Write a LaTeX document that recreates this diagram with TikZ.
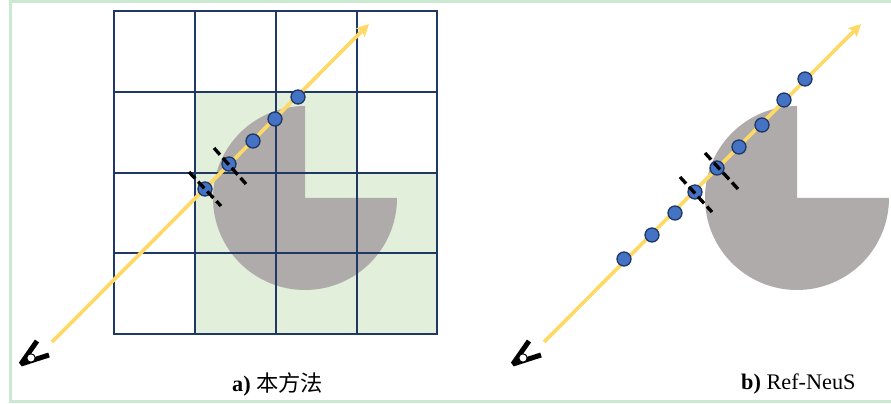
\documentclass[tikz,border=0pt]{standalone}
\usepackage{fontspec}
\usepackage{xcolor}
\usepackage{tikz}
\usetikzlibrary{arrows.meta}
\setmainfont{Liberation Serif}
\newfontfamily\cjkfont{Noto Sans CJK SC}
\definecolor{framegreen}{HTML}{CBE8D0}
\definecolor{cellgreen}{HTML}{E2EFDA}
\definecolor{gridblue}{HTML}{1F3864}
\definecolor{solidgray}{HTML}{AFABAB}
\definecolor{raygold}{HTML}{FFD966}
\definecolor{pointblue}{HTML}{4472C4}

\begin{document}
\begin{tikzpicture}[
    x=0.03cm, y=-0.03cm,
    frameline/.style={draw=framegreen, line width=0.09cm},
    gridline/.style={draw=gridblue, line width=0.075cm},
    ray/.style={draw=raygold, line width=0.11cm, -{Stealth[length=0.36cm,width=0.36cm,inset=0.06cm]}},
    sample/.style={circle, draw=gridblue, line width=0.04cm, fill=pointblue, minimum size=0.42cm, inner sep=0pt},
    bound/.style={draw=black, line width=0.1cm, dash pattern=on 0.27cm off 0.13cm},
    eyearm/.style={draw=black, line width=0.15cm, line join=bevel},
    eyeball/.style={circle, draw=black, line width=0.03cm, fill=white, minimum size=0.25cm, inner sep=0pt},
    caption/.style={font=\fontsize{19pt}{21pt}\selectfont, anchor=base west, inner sep=0pt}
]
\useasboundingbox (0,0) rectangle (891,404);
\draw[frameline] (10,2) rectangle (900,402);

% green cells
\fill[cellgreen] (195,92) -- (357,92) -- (357,173) -- (437,173) -- (437,334) -- (195,334) -- cycle;

% solids
\fill[solidgray] (305,198) -- (305,106) arc[start angle=270, end angle=0, radius=92] -- cycle;
\fill[solidgray] (797,198) -- (797,106) arc[start angle=270, end angle=0, radius=92] -- cycle;

% grid
\draw[gridline] (114,11) rectangle (437,334);
\draw[gridline] (195,11) -- (195,334);
\draw[gridline] (276,11) -- (276,334);
\draw[gridline] (357,11) -- (357,334);
\draw[gridline] (114,92) -- (437,92);
\draw[gridline] (114,173) -- (437,173);
\draw[gridline] (114,253) -- (437,253);

% rays
\coordinate (rayAstart) at (52,342);
\coordinate (rayAend) at (369,24);
\coordinate (rayBstart) at (544,342);
\coordinate (rayBend) at (861,24);
\draw[ray] (rayAstart) -- (rayAend);
\draw[ray] (rayBstart) -- (rayBend);

% samples of the left ray
\node[sample] (a1) at (205,189) {};
\node[sample] (a2) at (229,164) {};
\node[sample] (a3) at (253,141) {};
\node[sample] (a4) at (275,119) {};
\node[sample] (a5) at (298,97) {};

% samples of the right ray
\node[sample] (b1) at (624,259) {};
\node[sample] (b2) at (652,235) {};
\node[sample] (b3) at (675,213) {};
\node[sample] (b4) at (695,192) {};
\node[sample] (b5) at (717,168) {};
\node[sample] (b6) at (739,147) {};
\node[sample] (b7) at (762,125) {};
\node[sample] (b8) at (784,100) {};
\node[sample] (b9) at (805,79) {};

% interval bounds
\draw[bound] (189,172) -- (221,206);
\draw[bound] (214,148) -- (246,184);
\draw[bound] (680,177) -- (712,212);
\draw[bound] (705,153) -- (738,189);

% cameras
\draw[eyearm] (37,341) -- (21,364) -- (49,355);
\node[eyeball] (eyeA) at (31,358) {};
\draw[eyearm] (529,341) -- (513,364) -- (541,355);
\node[eyeball] (eyeB) at (523,358) {};

% captions
\node[caption] (capA) at (232,392) {\textbf{a)} {\cjkfont 本方法}};
\node[caption] (capB) at (741,390) {\textbf{b)} Ref-NeuS};
\end{tikzpicture}
\end{document}
